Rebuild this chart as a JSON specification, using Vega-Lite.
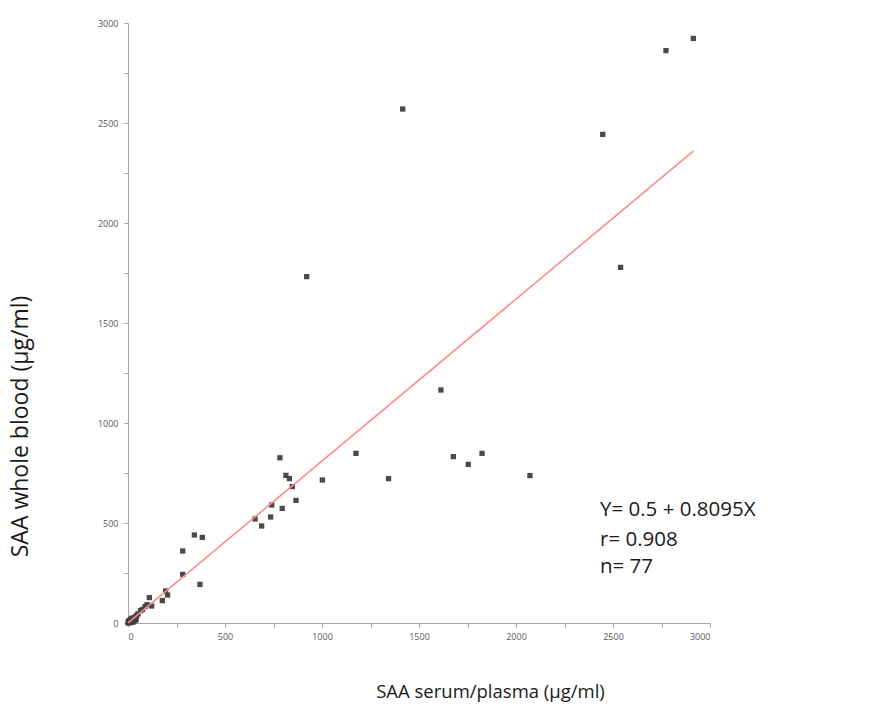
{
  "$schema": "https://vega.github.io/schema/vega-lite/v6.json",
  "width": 582,
  "height": 600,
  "autosize": "none",
  "padding": {"left": 128, "top": 23, "right": 174, "bottom": 98},
  "background": "white",
  "encoding": {
    "x": {
      "field": "x",
      "type": "quantitative",
      "title": "SAA serum/plasma (µg/ml)",
      "scale": {"domain": [0, 3000], "nice": false},
      "axis": {
        "values": [0, 250, 500, 750, 1000, 1250, 1500, 1750, 2000, 2250, 2500, 2750, 3000],
        "format": "d",
        "labelExpr": "datum.value % 500 == 0 ? datum.label : ''",
        "grid": false,
        "titleX": 362,
        "titleY": 68,
        "titleFontSize": 18.5,
        "titleBaseline": "middle"
      }
    },
    "y": {
      "field": "y",
      "type": "quantitative",
      "title": "SAA whole blood (µg/ml)",
      "scale": {"domain": [0, 3000], "nice": false},
      "axis": {
        "values": [0, 250, 500, 750, 1000, 1250, 1500, 1750, 2000, 2250, 2500, 2750, 3000],
        "format": "d",
        "labelExpr": "datum.value % 500 == 0 ? datum.label : ''",
        "grid": false,
        "titleX": -108,
        "titleY": 403,
        "titleFontSize": 23,
        "titleBaseline": "middle"
      }
    }
  },
  "layer": [
    {
      "data": {
        "values": [
          {"x": 783, "y": 826}, {"x": 1175, "y": 848}, {"x": 1677, "y": 832},
          {"x": 1754, "y": 793}, {"x": 1825, "y": 848}, {"x": 2072, "y": 737},
          {"x": 1343, "y": 722}, {"x": 1002, "y": 715}, {"x": 814, "y": 738},
          {"x": 832, "y": 722}, {"x": 847, "y": 682}, {"x": 866, "y": 613},
          {"x": 741, "y": 590}, {"x": 795, "y": 573}, {"x": 735, "y": 530},
          {"x": 655, "y": 520}, {"x": 689, "y": 485}, {"x": 342, "y": 440},
          {"x": 383, "y": 428}, {"x": 282, "y": 360}, {"x": 282, "y": 243},
          {"x": 371, "y": 193}, {"x": 194, "y": 160}, {"x": 204, "y": 140},
          {"x": 177, "y": 112}, {"x": 110, "y": 127}, {"x": 122, "y": 85},
          {"x": 88, "y": 82}, {"x": 65, "y": 62}, {"x": 1416, "y": 2570},
          {"x": 921, "y": 1732}, {"x": 2914, "y": 2923}, {"x": 2773, "y": 2862},
          {"x": 2447, "y": 2443}, {"x": 2539, "y": 1778}, {"x": 1613, "y": 1165},
          {"x": 45, "y": 38}, {"x": 52, "y": 46}, {"x": 75, "y": 68}, {"x": 98, "y": 92},
          {"x": 1, "y": 1}, {"x": 2, "y": 3}, {"x": 3, "y": 1}, {"x": 3, "y": 8},
          {"x": 4, "y": 5}, {"x": 5, "y": 4}, {"x": 6, "y": 2}, {"x": 6, "y": 12},
          {"x": 7, "y": 9}, {"x": 8, "y": 6}, {"x": 9, "y": 11}, {"x": 10, "y": 8},
          {"x": 11, "y": 4}, {"x": 12, "y": 10}, {"x": 13, "y": 15}, {"x": 14, "y": 7},
          {"x": 15, "y": 12}, {"x": 16, "y": 20}, {"x": 17, "y": 3}, {"x": 18, "y": 14},
          {"x": 19, "y": 6}, {"x": 20, "y": 16}, {"x": 21, "y": 24}, {"x": 22, "y": 9},
          {"x": 24, "y": 14}, {"x": 25, "y": 20}, {"x": 26, "y": 5}, {"x": 27, "y": 11},
          {"x": 28, "y": 22}, {"x": 30, "y": 18}, {"x": 32, "y": 15}, {"x": 33, "y": 28},
          {"x": 35, "y": 25}, {"x": 36, "y": 12}, {"x": 38, "y": 20}, {"x": 40, "y": 30},
          {"x": 42, "y": 18}
        ]
      },
      "mark": {"type": "point", "shape": "square", "filled": true, "size": 28, "color": "#404040", "opacity": 0.95}
    },
    {
      "data": {
        "values": [
          {"x": 0, "y": 0.5},
          {"x": 2914, "y": 2359.4}
        ]
      },
      "mark": {"type": "line", "color": "#ff8a8a", "strokeWidth": 1.6}
    },
    {
      "data": {
        "values": [
          {"x": 2433, "y": 565, "label": "Y= 0.5 + 0.8095X"},
          {"x": 2433, "y": 415, "label": "r= 0.908"},
          {"x": 2433, "y": 280, "label": "n= 77"}
        ]
      },
      "mark": {"type": "text", "align": "left", "baseline": "middle", "fontSize": 20.5, "font": "Open Sans", "color": "#1a1a1a"},
      "encoding": {"text": {"field": "label"}}
    }
  ],
  "config": {
    "view": {"stroke": null},
    "axis": {
      "domainColor": "#a6a6a6",
      "tickColor": "#a6a6a6",
      "tickSize": 4,
      "labelColor": "#595959",
      "labelFont": "Open Sans",
      "labelFontSize": 9,
      "titleFont": "Open Sans",
      "titleFontSize": 18,
      "titleFontWeight": "normal",
      "titleColor": "#1a1a1a"
    },
    "axisY": {"labelPadding": 6},
    "axisX": {"labelPadding": 5}
  }
}
